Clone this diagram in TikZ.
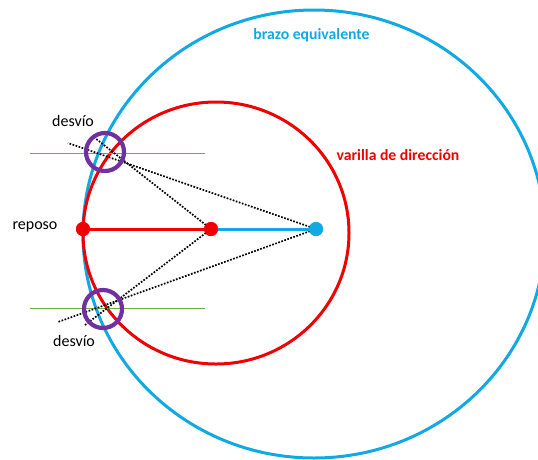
\documentclass[tikz,border=0pt]{standalone}
\usepackage{fontspec}
\setmainfont{Carlito}
\usepackage{xcolor}
\usetikzlibrary{calc}
\definecolor{armblue}{HTML}{12A9E2}
\definecolor{rodred}{HTML}{F00000}
\definecolor{ringpurple}{HTML}{7030A0}
\definecolor{levelgreen}{HTML}{70AD47}
\tikzset{
  arm circle/.style={draw=armblue, line width=3pt},
  rod circle/.style={draw=rodred, line width=3pt},
  ring/.style={circle, draw=ringpurple, line width=4.2pt, minimum size=38pt, inner sep=0pt},
  pivot/.style={circle, inner sep=0pt, minimum size=14pt},
  level line/.style={levelgreen, line width=0.9pt},
  sight line/.style={black, line width=1.7pt, dash pattern=on 1.7pt off 1.5pt},
  label text/.style={font=\fontsize{16}{18}\selectfont, inner sep=0pt},
  title text/.style={font=\fontsize{15.7}{18}\selectfont\bfseries, inner sep=0pt},
}
\begin{document}
\begin{tikzpicture}[x=1pt,y=-1pt]
  \useasboundingbox (0,0) rectangle (538,459);
  \clip (0,0) rectangle (538,459);

  \coordinate (armcentre) at (314,234);
  \coordinate (rodcentre) at (216,233);
  \draw[arm circle] (armcentre) circle [x radius=231pt, y radius=224pt];
  \draw[rod circle] (rodcentre) circle [x radius=133pt, y radius=131pt];

  \coordinate (topleft) at (30,153);
  \coordinate (topright) at (205,153);
  \coordinate (lowleft) at (30,308);
  \coordinate (lowright) at (205,308);
  \draw[level line] (topleft) -- (topright);
  \draw[level line] (lowleft) -- (lowright);

  \node[pivot,fill=rodred] (rest) at (83,229) {};
  \node[pivot,fill=rodred] (rodend) at (211,229) {};
  \node[pivot,fill=armblue] (armend) at (316,229) {};

  \coordinate (armtop) at (68,143);
  \coordinate (rodtop) at (95,138);
  \coordinate (armlow) at (58,322);
  \coordinate (rodlow) at (85,325);
  \draw[sight line] (armend.center) -- (armtop);
  \draw[sight line] (rodend.center) -- (rodtop);
  \draw[sight line] (armend.center) -- (armlow);
  \draw[sight line] (rodend.center) -- (rodlow);

  \draw[armblue,line width=3pt] (rest.center) -- (armend.center);
  \draw[rodred,line width=3pt] (rest.center) -- (rodend.center);
  \node[pivot,fill=rodred] at (rest) {};
  \node[pivot,fill=rodred] at (rodend) {};
  \node[pivot,fill=armblue] at (armend) {};

  \node[ring] (ringtop) at (105,152) {};
  \node[ring] (ringlow) at (103,309) {};

  \node[title text,text=armblue] (armlabel) at (311.5,35) {brazo equivalente};
  \node[title text,text=rodred] (rodlabel) at (398,155) {varilla de dirección};
  \node[label text] (deviationtop) at (73,121) {desvío};
  \node[label text] (deviationlow) at (74,341) {desvío};
  \node[label text] (restlabel) at (35,227) {reposo};
\end{tikzpicture}
\end{document}
